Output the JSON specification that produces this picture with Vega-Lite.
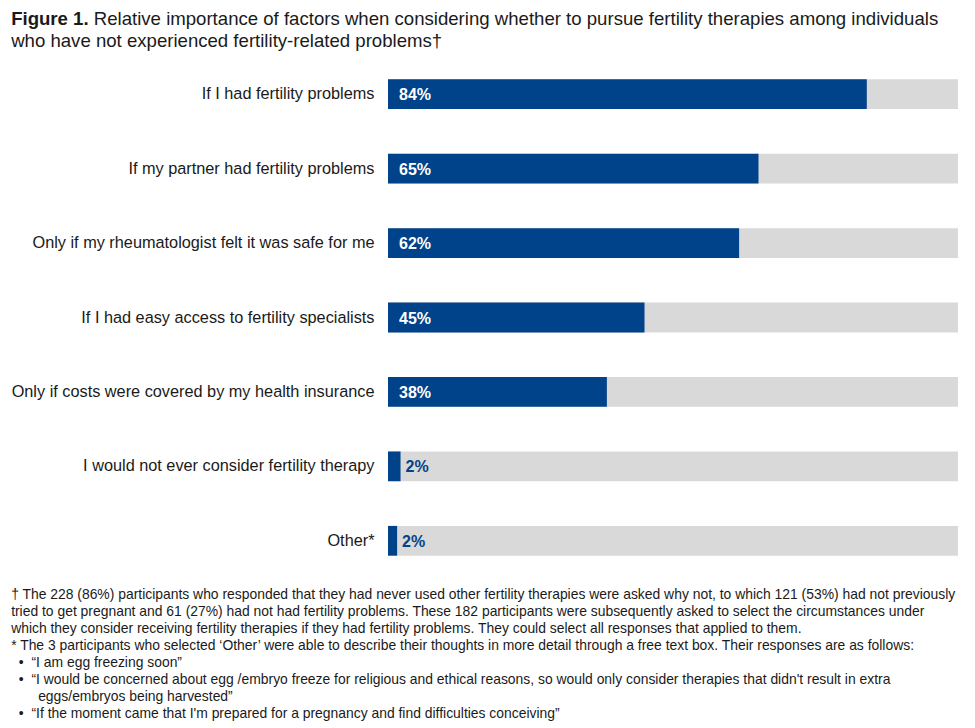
{
  "$schema": "https://vega.github.io/schema/vega-lite/v6.json",
  "padding": {"left": 11, "top": 10, "right": 18, "bottom": 5},
  "background": "white",
  "title": {
    "text": "Figure 1.",
    "subtitle": ["\u200b\u00a0\u00a0\u00a0\u00a0\u00a0\u00a0\u00a0\u00a0\u00a0\u00a0\u00a0\u00a0\u00a0\u00a0\u00a0\u00a0Relative importance of factors when considering whether to pursue fertility therapies among individuals", "who have not experienced fertility-related problems\u2020"],
    "anchor": "start",
    "frame": "bounds",
    "font": "Liberation Sans",
    "fontSize": 18.6,
    "fontWeight": "bold",
    "color": "#1a1a1a",
    "subtitleFont": "Liberation Sans",
    "subtitleFontSize": 18.6,
    "subtitleFontWeight": "normal",
    "subtitleColor": "#1a1a1a",
    "subtitleLineHeight": 22,
    "subtitlePadding": -18.6,
    "offset": 6
  },
  "vconcat": [
    {
      "width": 570,
      "height": 521,
      "title": {
        "text": [
          "\u2020 The 228 (86%) participants who responded that they had never used other fertility therapies were asked why not, to which 121 (53%) had not previously",
          "tried to get pregnant and 61 (27%) had not had fertility problems. These 182 participants were subsequently asked to select the circumstances under",
          "which they consider receiving fertility therapies if they had fertility problems. They could select all responses that applied to them.",
          "* The 3 participants who selected \u2018Other\u2019 were able to describe their thoughts in more detail through a free text box. Their responses are as follows:",
          "\u200b\u00a0\u00a0\u2022\u00a0\u00a0\u201cI am egg freezing soon\u201d",
          "\u200b\u00a0\u00a0\u2022\u00a0\u00a0\u201cI would be concerned about egg /embryo freeze for religious and ethical reasons, so would only consider therapies that didn't result in extra",
          "\u200b\u00a0\u00a0\u00a0\u00a0\u00a0\u00a0\u00a0eggs/embryos being harvested\u201d",
          "\u200b\u00a0\u00a0\u2022\u00a0\u00a0\u201cIf the moment came that I'm prepared for a pregnancy and find difficulties conceiving\u201d"
        ],
        "orient": "bottom",
        "anchor": "start",
        "frame": "bounds",
        "font": "Liberation Sans",
        "fontSize": 13.9,
        "fontWeight": "normal",
        "color": "#1a1a1a",
        "lineHeight": 17,
        "offset": 10
      },
      "data": {
        "values": [
          {"factor": "If I had fertility problems", "pct": 84, "label": "84%"},
          {"factor": "If my partner had fertility problems", "pct": 65, "label": "65%"},
          {"factor": "Only if my rheumatologist felt it was safe for me", "pct": 61.6, "label": "62%"},
          {"factor": "If I had easy access to fertility specialists", "pct": 45, "label": "45%"},
          {"factor": "Only if costs were covered by my health insurance", "pct": 38.4, "label": "38%"},
          {"factor": "I would not ever consider fertility therapy", "pct": 2.2, "label": "2%"},
          {"factor": "Other*", "pct": 1.6, "label": "2%"}
        ]
      },
      "encoding": {
        "y": {
          "field": "factor",
          "type": "nominal",
          "sort": null,
          "scale": {"paddingInner": 0.6, "paddingOuter": 0.3},
          "axis": {
            "title": null,
            "domain": false,
            "ticks": false,
            "labelFont": "Liberation Sans",
            "labelFontSize": 16.3,
            "labelColor": "#1a1a1a",
            "labelPadding": 14,
            "labelLimit": 500
          }
        }
      },
      "layer": [
        {
          "mark": {"type": "bar", "color": "#d9d9d9"},
          "encoding": {
            "x": {
              "datum": 100,
              "type": "quantitative",
              "scale": {"domain": [0, 100]},
              "axis": {
                "title": null,
                "labels": false,
                "ticks": false,
                "domain": false,
                "values": [0, 10, 20, 30, 40, 50, 60, 70, 80, 90, 100],
                "gridColor": "#dcdcdc",
                "gridWidth": 1
              }
            }
          }
        },
        {
          "mark": {"type": "bar", "color": "#00438a"},
          "encoding": {
            "x": {"field": "pct", "type": "quantitative"}
          }
        },
        {
          "transform": [{"filter": "datum.pct > 10"}],
          "mark": {"type": "text", "align": "left", "baseline": "middle", "dx": 11, "dy": 1, "font": "Liberation Sans", "fontSize": 16, "fontWeight": "bold", "color": "white"},
          "encoding": {
            "x": {"datum": 0, "type": "quantitative"},
            "text": {"field": "label"}
          }
        },
        {
          "transform": [{"filter": "datum.pct <= 10"}],
          "mark": {"type": "text", "align": "left", "baseline": "middle", "dx": 5, "dy": 1, "font": "Liberation Sans", "fontSize": 16, "fontWeight": "bold", "color": "#00438a"},
          "encoding": {
            "x": {"field": "pct", "type": "quantitative"},
            "text": {"field": "label"}
          }
        }
      ]
    }
  ],
  "config": {
    "view": {"stroke": null},
    "concat": {"spacing": 0}
  }
}
